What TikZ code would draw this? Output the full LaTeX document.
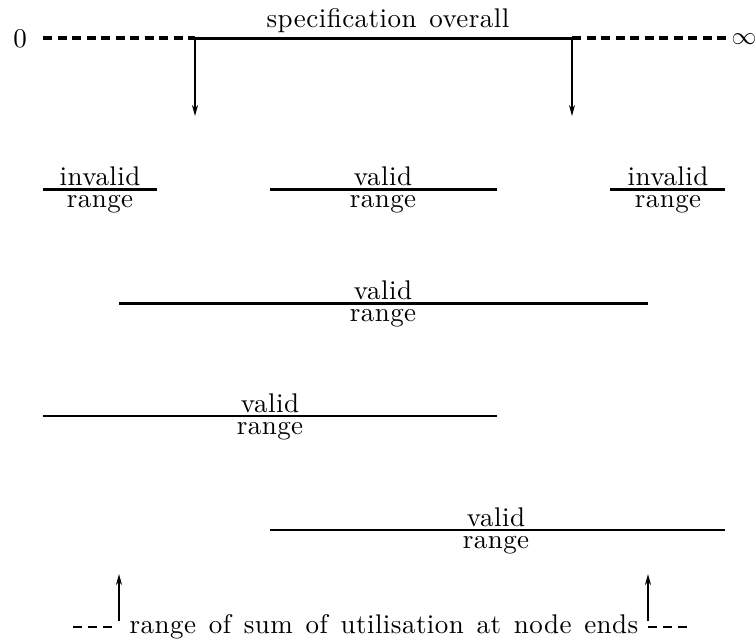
\documentclass[tikz,border=0pt]{standalone}
\usepackage{fontspec}
\setmainfont{lmroman10-regular}[Extension=.otf,LetterSpace=1.7,WordSpace=1.35]
\usetikzlibrary{arrows.meta}
\begin{document}
\begin{tikzpicture}[x=1pt,y=-1pt,
  lbl/.style={inner sep=0pt,anchor=base,font=\fontsize{27}{32}\selectfont},
  endlbl/.style={inner sep=0pt,anchor=center,font=\fontsize{27}{32}\selectfont},
  thickline/.style={line width=3pt},
  medline/.style={line width=2.3pt},
  dashline/.style={line width=3.2pt,dash pattern=on 9pt off 5.5pt},
  shortdash/.style={line width=2.2pt,dash pattern=on 9pt off 6pt},
  arr/.style={line width=1.7pt,-{Stealth[length=11pt,width=6pt]}}]
\useasboundingbox (0,0) rectangle (756,641);
% top axis
\node[endlbl] (zero) at (20,38.5) {0};
\node[endlbl] (inf) at (744,39) {$\infty$};
\node[lbl] (spec) at (388,27) {specification overall};
\coordinate (d0) at (43,38);
\coordinate (sa) at (195,38);
\coordinate (sb) at (572,38);
\coordinate (d1) at (726,38);
\coordinate (aa) at (195,116);
\coordinate (ab) at (572,116);
\draw[dashline] (d0) -- (sa);
\draw[dashline] (sb) -- (d1);
\draw[thickline,line cap=rect] (sa) -- (sb);
\draw[arr] (sa) -- (aa);
\draw[arr] (sb) -- (ab);
% row 1
\coordinate (r1a) at (43,189);  \coordinate (r1b) at (157,189);
\coordinate (r1c) at (270,189); \coordinate (r1d) at (497,189);
\coordinate (r1e) at (610,189); \coordinate (r1f) at (725,189);
\draw[thickline] (r1a) -- (r1b);
\draw[thickline] (r1c) -- (r1d);
\draw[thickline] (r1e) -- (r1f);
\node[lbl] (t1a) at (100,185) {invalid};
\node[lbl] (t1b) at (100,207.5) {range};
\node[lbl] (t1c) at (383,185) {valid};
\node[lbl] (t1d) at (383,207.5) {range};
\node[lbl] (t1e) at (668,185) {invalid};
\node[lbl] (t1f) at (668,207.5) {range};
% row 2
\coordinate (r2a) at (119,303); \coordinate (r2b) at (648,303);
\draw[thickline] (r2a) -- (r2b);
\node[lbl] (t2a) at (383,299) {valid};
\node[lbl] (t2b) at (383,321.5) {range};
% row 3
\coordinate (r3a) at (43,416); \coordinate (r3b) at (497,416);
\draw[medline] (r3a) -- (r3b);
\node[lbl] (t3a) at (270,412) {valid};
\node[lbl] (t3b) at (270,434.5) {range};
% row 4
\coordinate (r4a) at (270,530); \coordinate (r4b) at (725,530);
\draw[medline] (r4a) -- (r4b);
\node[lbl] (t4a) at (496,526) {valid};
\node[lbl] (t4b) at (496,548.5) {range};
% bottom
\node[lbl] (bot) at (384,633) {range of sum of utilisation at node ends};
\coordinate (bl0) at (73,627); \coordinate (bl1) at (115,627);
\coordinate (br0) at (648,627); \coordinate (br1) at (688,627);
\draw[shortdash] (bl0) -- (bl1);
\draw[shortdash] (br0) -- (br1);
\coordinate (u1) at (119,621); \coordinate (u1t) at (119,574);
\coordinate (u2) at (648,621); \coordinate (u2t) at (648,574);
\draw[arr] (u1) -- (u1t);
\draw[arr,line width=2.3pt] (u2) -- (u2t);
\end{tikzpicture}
\end{document}
